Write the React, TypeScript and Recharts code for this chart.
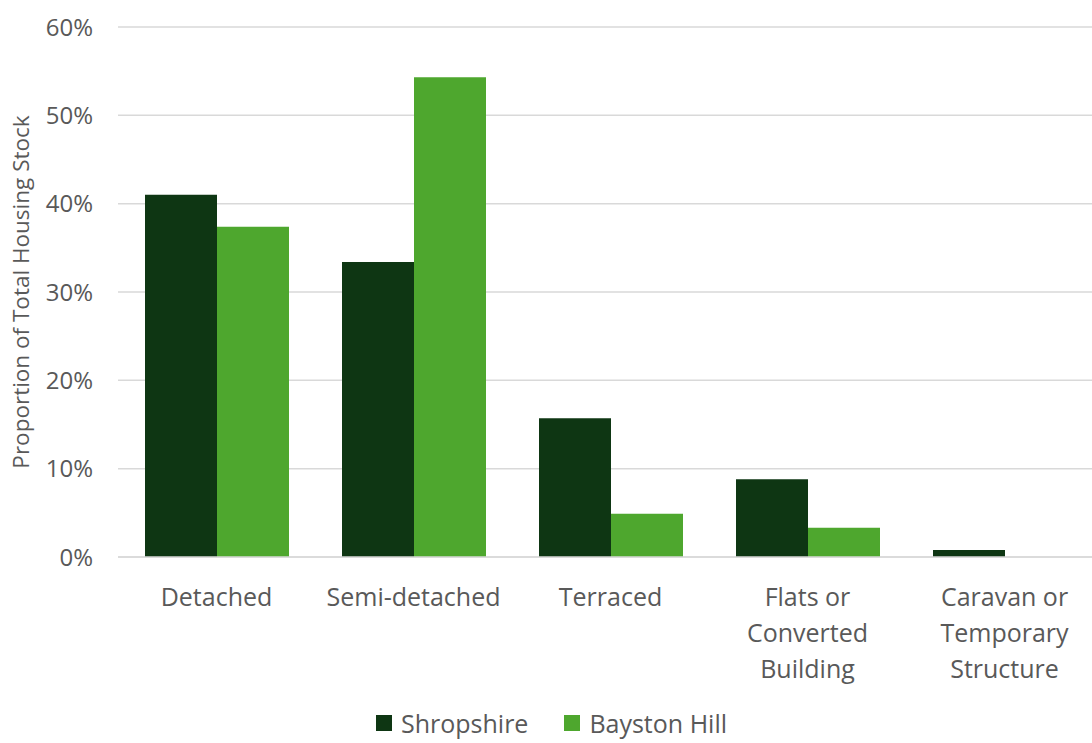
import React from 'react';
import { BarChart, Bar, XAxis, YAxis, CartesianGrid, Legend } from 'recharts';

const categories = [
  'Detached',
  'Semi-detached',
  'Terraced',
  'Flats or Converted Building',
  'Caravan or Temporary Structure',
];
const tickLines = [
  ['Detached'],
  ['Semi-detached'],
  ['Terraced'],
  ['Flats or', 'Converted', 'Building'],
  ['Caravan or', 'Temporary', 'Structure'],
];
const shropshire = [41.0, 33.4, 15.7, 8.8, 0.8];
const baystonHill = [37.4, 54.3, 4.9, 3.3, 0];
const yTicks = [0, 10, 20, 30, 40, 50, 60];

const DARK = '#0e3613';
const LIGHT = '#4ea72e';
const TEXT = '#595959';
const FONT = '"Open Sans", "Noto Sans", sans-serif';

const data = categories.map((name, i) => ({
  name,
  shropshire: shropshire[i],
  baystonHill: baystonHill[i],
}));

const CategoryTick = (props: any) => {
  const { x, y, index } = props;
  const lines = tickLines[index] || [];
  return (
    <g transform={`translate(${x},${y})`}>
      <text textAnchor="middle" fill={TEXT} fontSize={25} fontFamily={FONT}>
        {lines.map((line: string, i: number) => (
          <tspan key={i} x={0} y={41 + i * 36}>
            {line}
          </tspan>
        ))}
      </text>
    </g>
  );
};

const LegendContent = () => (
  <div
    style={{
      display: 'flex',
      justifyContent: 'center',
      gap: 36,
      fontFamily: FONT,
      fontSize: 25,
      color: TEXT,
      lineHeight: '30px',
    }}
  >
    {[
      { label: 'Shropshire', color: DARK },
      { label: 'Bayston Hill', color: LIGHT },
    ].map((item) => (
      <span key={item.label} style={{ display: 'flex', alignItems: 'center', gap: 9 }}>
        <span style={{ width: 16, height: 16, background: item.color, display: 'inline-block' }} />
        {item.label}
      </span>
    ))}
  </div>
);

const YLabel = () => (
  <text
    transform="translate(29,292) rotate(-90)"
    textAnchor="middle"
    fill={TEXT}
    fontSize={22.5}
    fontFamily={FONT}
  >
    Proportion of Total Housing Stock
  </text>
);

export default function App() {
  return (
    <div
      style={{
        position: 'absolute',
        left: 0,
        top: 0,
        width: 1092,
        height: 743,
        overflow: 'hidden',
        background: '#fff',
      }}
    >
      <BarChart
        width={1103}
        height={743}
        data={data}
        margin={{ top: 27, right: 0, left: 0, bottom: 0 }}
        barCategoryGap={27}
        barGap={0}
      >
        <CartesianGrid vertical={false} stroke="#d9d9d9" strokeWidth={1.5} />
        <XAxis
          dataKey="name"
          axisLine={{ stroke: '#d9d9d9', strokeWidth: 1.5 }}
          tickLine={false}
          interval={0}
          height={130}
          tick={<CategoryTick />}
        />
        <YAxis
          width={118}
          domain={[0, 60]}
          ticks={yTicks}
          axisLine={false}
          tickLine={false}
          tickSize={0}
          tickMargin={25}
          tickFormatter={(v) => `${v}%`}
          tick={{ fill: TEXT, fontSize: 24, fontFamily: FONT }}
          label={<YLabel />}
        />
        <Legend
          verticalAlign="bottom"
          height={56}
          wrapperStyle={{ bottom: -21 }}
          content={<LegendContent />}
        />
        <Bar dataKey="shropshire" name="Shropshire" fill={DARK} isAnimationActive={false} />
        <Bar dataKey="baystonHill" name="Bayston Hill" fill={LIGHT} isAnimationActive={false} />
      </BarChart>
    </div>
  );
}
